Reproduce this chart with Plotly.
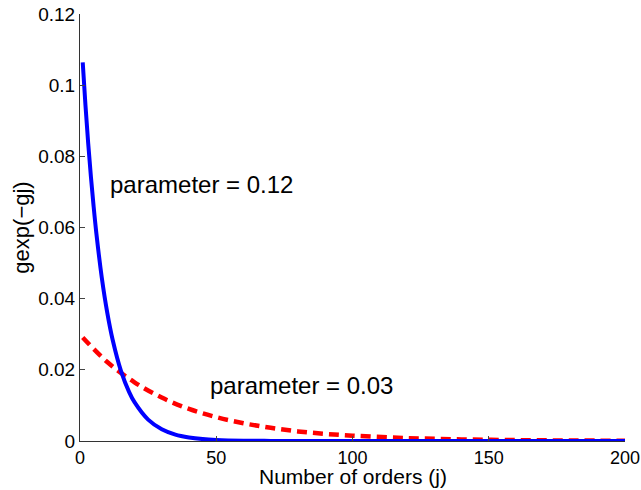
import plotly.graph_objects as go

# Values
j_blue = [1, 2, 3, 4, 5, 6, 8, 10, 12, 15, 18, 20, 25, 30, 35, 40, 45, 50, 60, 70, 80, 100, 150, 200]
y_blue = [0.1064, 0.0944, 0.0837, 0.0743, 0.0659, 0.0584, 0.0459, 0.0361, 0.0284, 0.0198,
          0.0138, 0.0109, 0.0060, 0.0033, 0.0018, 0.0010, 0.00054, 0.0003, 0.00009, 0.00003,
          0.00001, 0.0, 0.0, 0.0]

j_red = [1, 10, 20, 30, 40, 50, 60, 70, 80, 90, 100, 120, 140, 160, 180, 200]
y_red = [0.0291, 0.0222, 0.0165, 0.0122, 0.0090, 0.0067, 0.0050, 0.0037, 0.0027, 0.0020,
         0.0015, 0.00082, 0.00045, 0.00025, 0.00014, 0.00007]

x_ticks = [0, 50, 100, 150, 200]
y_ticks = [0, 0.02, 0.04, 0.06, 0.08, 0.1, 0.12]
y_tick_labels = ["0", "0.02", "0.04", "0.06", "0.08", "0.1", "0.12"]
x_title = "Number of orders (j)"
y_title = "gexp(\u2212gj)"

font_family = "Liberation Sans, Arial, sans-serif"

fig = go.Figure()
fig.add_trace(go.Scatter(x=j_red, y=y_red, mode="lines",
                         line=dict(color="#ff0000", width=4.5, dash="10px,6px", shape="spline"),
                         showlegend=False))
fig.add_trace(go.Scatter(x=j_blue, y=y_blue, mode="lines",
                         line=dict(color="#0000ff", width=4, shape="spline"),
                         showlegend=False))

fig.add_annotation(x=10.3, y=0.0722, text="parameter = 0.12", showarrow=False,
                   xanchor="left", yanchor="middle", font=dict(size=24, color="black", family=font_family))
fig.add_annotation(x=47, y=0.0157, text="parameter = 0.03", showarrow=False,
                   xanchor="left", yanchor="middle", font=dict(size=24, color="black", family=font_family))
fig.add_annotation(x=0.5, y=-0.112, xref="paper", yref="paper", text=x_title, showarrow=False,
                   xanchor="center", yanchor="bottom", borderpad=0,
                   font=dict(size=21, color="black", family=font_family))

fig.update_layout(
    width=641, height=490,
    margin=dict(l=80, r=16, t=14, b=49),
    paper_bgcolor="white", plot_bgcolor="white",
    font=dict(family=font_family, size=19, color="black"),
    xaxis=dict(range=[0, 200], tickvals=x_ticks, ticks="inside", ticklen=5, automargin=False,
               showline=True, linecolor="#333", linewidth=1, showgrid=False, zeroline=False,
               tickfont=dict(size=18)),
    yaxis=dict(range=[0, 0.12], tickvals=y_ticks, ticktext=y_tick_labels, ticks="inside", ticklen=5,
               automargin=False,
               showline=True, linecolor="#333", linewidth=1, showgrid=False, zeroline=False,
               title=dict(text=y_title, font=dict(size=22), standoff=2),
               tickfont=dict(size=19)),
)

fig.write_html("out.html")
